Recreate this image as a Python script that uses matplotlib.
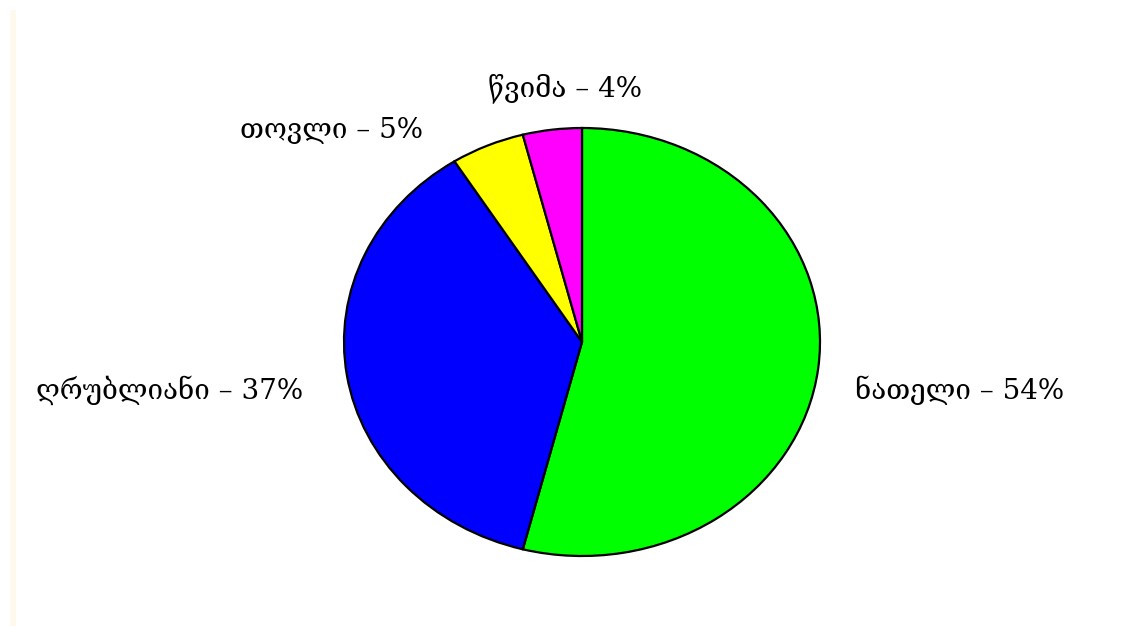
import matplotlib.pyplot as plt
from matplotlib.patches import Rectangle

labels = ['ნათელი', 'ღრუბლიანი', 'თოვლი', 'წვიმა']
values = [54, 37, 5, 4]
colors = ['#00ff00', '#0000ff', '#ffff00', '#ff00ff']
# label anchor points in pixels (x center, y center from top)
label_pos = [(960, 390), (170, 390), (332, 130), (565, 88)]

W, H = 1137, 626
fig = plt.figure(figsize=(W / 100, H / 100), dpi=100)
fig.patch.set_facecolor('white')

# faint cream strip on the left edge
fig.patches.append(Rectangle((10 / W, 0), 6 / W, 1 - 10 / H, transform=fig.transFigure,
                             facecolor='#fff8ec', edgecolor='none'))

cx, cy, rx, ry = 582, 342, 238, 214
ax = fig.add_axes([(cx - rx) / W, (H - cy - ry) / H, 2 * rx / W, 2 * ry / H])
ax.pie(values, colors=colors, startangle=90, counterclock=False,
       wedgeprops=dict(edgecolor='black', linewidth=1.6))
ax.set_aspect('auto')
ax.set_xlim(-1, 1)
ax.set_ylim(-1, 1)
ax.axis('off')

for lab, v, (px, py) in zip(labels, values, label_pos):
    fig.text(px / W, 1 - py / H, f'{lab} – {v}%', ha='center', va='center',
             fontsize=20, family=['DejaVu Serif', 'DejaVu Sans'], color='black')

fig.savefig('out.png', dpi=100)
